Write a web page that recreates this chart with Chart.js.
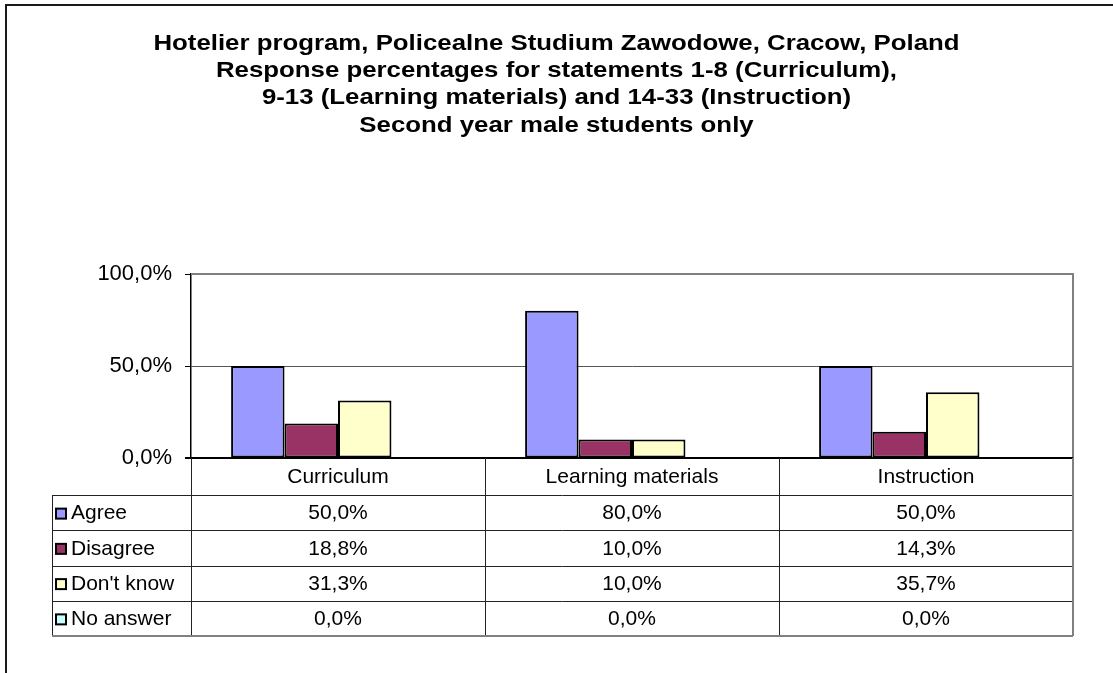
<!DOCTYPE html>
<html>
<head>
<meta charset="utf-8">
<script src="https://cdn.jsdelivr.net/npm/chart.js@4/dist/chart.umd.min.js"></script>
<style>
  html, body { margin: 0; padding: 0; background: #fff; }
  #wrap { width: 1113px; height: 673px; position: relative; }
</style>
</head>
<body>
<div id="wrap"><canvas id="c" width="1113" height="673"></canvas></div>
<script>
// Survey response shares per statement group (percent)
const categories = ['Curriculum', 'Learning materials', 'Instruction'];
const seriesNames = ['Agree', 'Disagree', "Don't know", 'No answer'];
const agree = [50.0, 80.0, 50.0];
const disagree = [18.8, 10.0, 14.3];
const dontKnow = [31.3, 10.0, 35.7];
const noAnswer = [0.0, 0.0, 0.0];
const yTicks = [0, 50, 100];
const titleLines = [
  'Hotelier program, Policealne Studium Zawodowe, Cracow, Poland',
  'Response percentages for statements 1-8 (Curriculum),',
  '9-13 (Learning materials) and 14-33 (Instruction)',
  'Second year male students only'
];

const seriesValues = [agree, disagree, dontKnow, noAnswer];
const seriesColors = ['#9999FF', '#993366', '#FFFFCC', '#CCFFFF'];
const FONT = '"Liberation Sans", Arial, Helvetica, sans-serif';

function pct(v) {
  return v.toFixed(1).replace('.', ',') + '%';
}

// Outer frame of the chart object
const framePlugin = {
  id: 'frame',
  beforeDraw(chart) {
    const ctx = chart.ctx;
    ctx.save();
    ctx.fillStyle = '#fff';
    ctx.fillRect(0, 0, chart.width, chart.height);
    ctx.strokeStyle = '#1a1a1a';
    ctx.lineWidth = 2;
    ctx.beginPath();
    ctx.moveTo(6, chart.height + 5);
    ctx.lineTo(6, 5);
    ctx.lineTo(chart.width + 5, 5);
    ctx.stroke();
    ctx.restore();
  }
};

// Wide bold heading, centred over the whole chart
const headingPlugin = {
  id: 'heading',
  afterDraw(chart) {
    const ctx = chart.ctx;
    const cx = chart.width / 2;
    const stretch = 1.2;
    ctx.save();
    ctx.fillStyle = '#000';
    ctx.font = 'bold 21.5px ' + FONT;
    ctx.textAlign = 'center';
    ctx.textBaseline = 'alphabetic';
    titleLines.forEach((line, i) => {
      ctx.save();
      ctx.translate(cx, 50 + i * 27.2);
      ctx.scale(stretch, 1);
      ctx.fillText(line, 0, 0);
      ctx.restore();
    });
    ctx.restore();
  }
};

// Plot area right edge and baseline
const plotEdgePlugin = {
  id: 'plotEdge',
  beforeDatasetsDraw(chart) {
    const { ctx, chartArea: a } = chart;
    ctx.save();
    ctx.strokeStyle = '#808080';
    ctx.lineWidth = 2;
    ctx.beginPath();
    ctx.moveTo(a.left, a.top);
    ctx.lineTo(a.right, a.top);
    ctx.lineTo(a.right, a.bottom);
    ctx.stroke();
    ctx.restore();
  },
  afterDatasetsDraw(chart) {
    const { ctx, chartArea: a } = chart;
    ctx.save();
    ctx.strokeStyle = '#000';
    ctx.lineWidth = 2;
    ctx.beginPath();
    ctx.moveTo(a.left - 6, a.bottom);
    ctx.lineTo(a.right, a.bottom);
    ctx.stroke();
    ctx.restore();
  }
};

// Data table under the plot: category row, then one row per series
const dataTablePlugin = {
  id: 'dataTable',
  afterDraw(chart) {
    const { ctx, chartArea: a } = chart;
    const xs = chart.scales.x;
    const n = categories.length;
    const colW = (a.right - a.left) / n;
    const headTop = a.bottom;
    const headBottom = a.bottom + 37;
    const rowH = 35.25;
    const tableLeft = 52;
    const tableBottom = headBottom + rowH * seriesNames.length;

    ctx.save();
    ctx.lineWidth = 1;
    ctx.strokeStyle = '#222';

    // vertical dividers
    ctx.beginPath();
    for (let i = 0; i <= n; i++) {
      const x = Math.round(a.left + colW * i) + 0.5;
      ctx.moveTo(x, headTop);
      ctx.lineTo(x, tableBottom);
    }
    ctx.moveTo(tableLeft + 0.5, headBottom);
    ctx.lineTo(tableLeft + 0.5, tableBottom);
    // horizontal rules
    for (let r = 0; r < seriesNames.length; r++) {
      const y = Math.round(headBottom + rowH * r) + 0.5;
      ctx.moveTo(tableLeft, y);
      ctx.lineTo(a.right, y);
    }
    ctx.stroke();

    ctx.strokeStyle = '#808080';
    ctx.lineWidth = 2;
    ctx.beginPath();
    ctx.moveTo(tableLeft, Math.round(tableBottom));
    ctx.lineTo(a.right, Math.round(tableBottom));
    ctx.moveTo(a.right, headTop);
    ctx.lineTo(a.right, tableBottom);
    ctx.stroke();

    ctx.fillStyle = '#000';
    ctx.font = '21px ' + FONT;
    ctx.textBaseline = 'middle';
    ctx.textAlign = 'center';
    for (let i = 0; i < n; i++) {
      const cx = xs.getPixelForValue(i);
      ctx.fillText(categories[i], cx, (headTop + headBottom) / 2 + 1);
      for (let r = 0; r < seriesNames.length; r++) {
        const cy = headBottom + rowH * r + rowH / 2 + 1;
        ctx.fillText(pct(seriesValues[r][i]), cx, cy);
      }
    }

    // series keys
    ctx.textAlign = 'left';
    for (let r = 0; r < seriesNames.length; r++) {
      const cy = headBottom + rowH * r + rowH / 2;
      ctx.fillStyle = seriesColors[r];
      ctx.fillRect(56, cy - 4, 10, 10);
      ctx.strokeStyle = '#000';
      ctx.lineWidth = 2;
      ctx.strokeRect(56, cy - 4, 10, 10);
      ctx.fillStyle = '#000';
      ctx.fillText(seriesNames[r], 71, cy + 1);
    }
    ctx.restore();
  }
};

new Chart(document.getElementById('c'), {
  type: 'bar',
  data: {
    labels: categories,
    datasets: seriesNames.map((name, i) => ({
      label: name,
      data: seriesValues[i],
      backgroundColor: seriesColors[i],
      borderColor: '#000',
      borderWidth: 2,
      borderSkipped: false,
      categoryPercentage: 4 / 5.5,
      barPercentage: 1
    }))
  },
  options: {
    responsive: false,
    animation: false,
    devicePixelRatio: 1,
    layout: { padding: { left: 40, right: 40, top: 274, bottom: 215 } },
    plugins: {
      legend: { display: false },
      tooltip: { enabled: false },
      title: { display: false }
    },
    scales: {
      x: { display: false },
      y: {
        min: 0,
        max: 100,
        afterBuildTicks(scale) {
          scale.ticks = yTicks.map(v => ({ value: v }));
        },
        afterFit(scale) { scale.width = 151; },
        ticks: {
          color: '#000',
          padding: 13,
          font: { family: FONT, size: 22 },
          callback: v => pct(v)
        },
        grid: {
          color: ctx => (ctx.tick && ctx.tick.value === 50 ? '#555' : 'rgba(0,0,0,0)'),
          tickColor: '#000',
          tickLength: 6,
          lineWidth: 1
        },
        border: { display: true, color: '#000', width: 1.5 }
      }
    }
  },
  plugins: [framePlugin, plotEdgePlugin, dataTablePlugin, headingPlugin]
});
</script>
</body>
</html>
